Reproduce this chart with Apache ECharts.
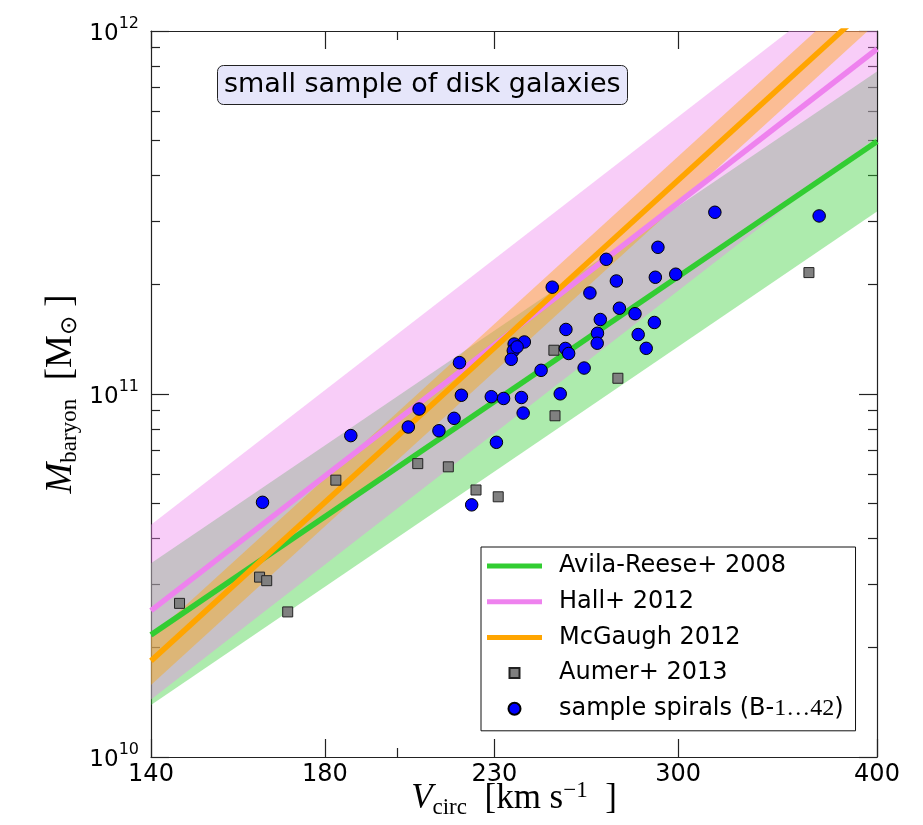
<!DOCTYPE html>
<html>
<head>
<meta charset="utf-8">
<script src="https://cdn.jsdelivr.net/npm/echarts@6/dist/echarts.min.js"></script>
<style>
html,body{margin:0;padding:0;background:#fff;}
#chart{width:923px;height:825px;}
</style>
</head>
<body>
<div id="chart"></div>
<script>
// ---------------- data ----------------
// relation endpoints (V_circ in km/s)
const relV = [140, 400];
const avilaMid = [2.17e10, 4.96e11];
const avilaLo  = [1.39e10, 3.18e11];
const avilaHi  = [3.42e10, 7.73e11];
const hallMid  = [2.53e10, 8.92e11];
const hallLo   = [1.44e10, 5.12e11];
const hallHi   = [4.36e10, 1.54e12];
const mcgMid   = [1.84e10, 1.226e12];
const mcgLo    = [1.58e10, 1.055e12];
const mcgHi    = [2.14e10, 1.425e12];

// Aumer+ 2013 (grey squares)
const aumerV = [145.9, 163.8, 165.5, 170.6, 182.9, 205.9, 215.2, 224.0, 231.3, 250.7, 275.0, 362.5, 251.1];
const aumerM = [2.65e10, 3.13e10, 3.06e10, 2.51e10, 5.79e10, 6.43e10, 6.30e10, 5.44e10, 5.21e10, 1.32e11, 1.105e11, 2.16e11, 8.71e10];

// sample spirals B-1...42 (blue circles)
const spiralV = [164.5, 186.9, 203.1, 206.3, 212.3, 217.0, 219.3, 229.0, 233.1, 239.2,
                 239.8, 230.7, 222.6, 218.7, 240.2, 236.7, 236.4, 235.7, 246.1, 250.1,
                 270.4, 291.4, 316.4, 367.9, 274.4, 264.1, 290.3, 299.0, 275.6, 281.9,
                 268.1, 255.1, 289.9, 267.0, 283.2, 266.9, 286.5, 254.9, 256.1, 261.9,
                 253.0, 237.7];
const spiralM = [5.03e10, 7.68e10, 8.11e10, 9.09e10, 7.92e10, 8.57e10, 9.92e10, 9.83e10, 9.72e10, 9.78e10,
                 8.86e10, 7.36e10, 4.95e10, 1.220e11, 1.391e11, 1.373e11, 1.316e11, 1.246e11, 1.162e11, 1.969e11,
                 2.350e11, 2.536e11, 3.167e11, 3.094e11, 2.048e11, 1.898e11, 2.097e11, 2.138e11, 1.723e11, 1.664e11,
                 1.604e11, 1.506e11, 1.574e11, 1.470e11, 1.458e11, 1.380e11, 1.336e11, 1.335e11, 1.293e11, 1.179e11,
                 1.001e11, 1.348e11];

// tick values
const xMajorTicks = [140, 180, 230, 300, 400];
const xMinorTicks = [200];
const yMajorTicks = [1e10, 1e11, 1e12];
const yMinorTicks = [2e10,3e10,4e10,5e10,6e10,7e10,8e10,9e10,2e11,3e11,4e11,5e11,6e11,7e11,8e11,9e11];

const legendNames = ['Avila-Reese+ 2008', 'Hall+ 2012', 'McGaugh 2012', 'Aumer+ 2013', 'sample spirals (B-1…42)'];

// ---------------- chart ----------------
const chart = echarts.init(document.getElementById('chart'), null, {renderer: 'canvas'});
const AX = '#222';

function xAx(pos, ticks, len, opts) {
  return Object.assign({
    type: 'log', logBase: 10, min: 140, max: 400, position: pos,
    axisLine: {show: true, onZero: false, lineStyle: {color: AX, width: 1.2}},
    axisTick: {show: true, inside: true, length: len, customValues: ticks, lineStyle: {color: AX, width: 1.2}},
    axisLabel: {show: false},
    splitLine: {show: false}, minorTick: {show: false}, minorSplitLine: {show: false}
  }, opts || {});
}
function yAx(pos, ticks, len, opts) {
  return Object.assign({
    type: 'log', logBase: 10, min: 1e10, max: 1e12, position: pos,
    axisLine: {show: true, onZero: false, lineStyle: {color: AX, width: 1.2}},
    axisTick: {show: true, inside: true, length: len, customValues: ticks, lineStyle: {color: AX, width: 1.2}},
    axisLabel: {show: false},
    splitLine: {show: false}, minorTick: {show: false}, minorSplitLine: {show: false}
  }, opts || {});
}

function band(lo, hi, color, z) {
  return {
    type: 'custom', xAxisIndex: 0, yAxisIndex: 0, clip: true, silent: true, z: z,
    data: relV.map((v, i) => [v, lo[i], hi[i]]),
    encode: {x: 0, y: [1, 2]},
    renderItem: function (params, api) {
      if (params.dataIndex !== 0) return null;
      const pts = [];
      for (let i = 0; i < relV.length; i++) pts.push(api.coord([relV[i], hi[i]]));
      for (let i = relV.length - 1; i >= 0; i--) pts.push(api.coord([relV[i], lo[i]]));
      return {type: 'polygon', shape: {points: pts}, style: {fill: color}};
    }
  };
}
function relLine(name, mid, color, z) {
  return {
    name: name, type: 'line', xAxisIndex: 0, yAxisIndex: 0, symbol: 'none', showSymbol: false, clip: true, z: z,
    data: relV.map((v, i) => [v, mid[i]]),
    lineStyle: {color: color, width: 5.5}, itemStyle: {color: color}
  };
}

const serif = 'Liberation Serif';
const lineIcon = 'path://M0,0L55,0L55,5L0,5Z';
const option = {
  backgroundColor: '#fff',
  animation: false,
  textStyle: {fontFamily: 'DejaVu Sans', color: '#000'},
  grid: {left: 151, right: 46, top: 31, bottom: 68, containLabel: false, outerBoundsMode: 'none'},
  title: {
    text: 'small sample of disk galaxies', left: 217, top: 65,
    padding: [3, 7, 4, 7], backgroundColor: '#e6e6fa', borderColor: '#222', borderWidth: 1, borderRadius: 6,
    textStyle: {fontFamily: 'DejaVu Sans', fontSize: 27, fontWeight: 'normal', color: '#000', lineHeight: 33}
  },
  legend: {
    orient: 'vertical', left: 481, top: 547,
    padding: [6, 12, 9, 6], itemGap: 9.7, itemWidth: 55, itemHeight: 12,
    backgroundColor: '#fff', borderColor: '#111', borderWidth: 1, borderRadius: 0,
    data: [
      {name: legendNames[0], icon: lineIcon},
      {name: legendNames[1], icon: lineIcon},
      {name: legendNames[2], icon: lineIcon},
      {name: legendNames[3], icon: 'path://M0,0L0,0M1,1L11,1L11,11L1,11Z M12,12L12,12'},
      {name: legendNames[4], icon: 'circle'}
    ],
    formatter: function (n) {
      if (n === legendNames[4]) return 'sample spirals (B-{m|1…42})';
      return n;
    },
    textStyle: {fontFamily: 'DejaVu Sans', fontSize: 24, color: '#000', lineHeight: 26, padding: [0, 0, 0, 12],
      rich: {m: {fontFamily: serif, fontSize: 24, color: '#000'}}},
    selectedMode: false
  },
  xAxis: [
    xAx('bottom', xMajorTicks, 18, {
      axisLabel: {show: true, customValues: xMajorTicks, margin: 6, fontFamily: 'DejaVu Sans', fontSize: 24, color: '#000',
        formatter: function (v) { return String(Math.round(v)); }},
      name: '{v|V}{sub|circ}{n|  [km s}{sup|−1}{n|  ]}', nameLocation: 'middle', nameGap: 22, nameMoveOverlap: false,
      nameTextStyle: {rich: {
        v: {fontFamily: serif, fontStyle: 'italic', fontSize: 35, color: '#000', lineHeight: 40},
        n: {fontFamily: serif, fontSize: 35, color: '#000', lineHeight: 40},
        sub: {fontFamily: serif, fontSize: 23, color: '#000', verticalAlign: 'bottom', lineHeight: 24},
        sup: {fontFamily: serif, fontSize: 23, color: '#000', verticalAlign: 'top', lineHeight: 24}
      }}
    }),
    xAx('bottom', xMinorTicks, 9, {axisLine: {show: false}}),
    xAx('top', xMajorTicks, 18),
    xAx('top', xMinorTicks, 9, {axisLine: {show: false}})
  ],
  yAxis: [
    yAx('left', yMajorTicks, 18, {
      axisLabel: {show: true, customValues: yMajorTicks, margin: 12,
        formatter: function (v) { return '{b|10}{s|' + Math.round(Math.log10(v)) + '}'; },
        rich: {
          b: {fontFamily: 'DejaVu Sans', fontSize: 23, color: '#000', lineHeight: 30, verticalAlign: 'bottom'},
          s: {fontFamily: 'DejaVu Sans', fontSize: 16, color: '#000', lineHeight: 30, verticalAlign: 'top'}
        }},
      name: '{v|M}{sub|baryon}{n|  [M}{sub|⊙}{n| ]}', nameLocation: 'middle', nameGap: 70, nameRotate: 90, nameMoveOverlap: false,
      nameTextStyle: {rich: {
        v: {fontFamily: serif, fontStyle: 'italic', fontSize: 37, color: '#000', lineHeight: 40},
        n: {fontFamily: serif, fontSize: 37, color: '#000', lineHeight: 40},
        sub: {fontFamily: serif, fontSize: 23, color: '#000', verticalAlign: 'bottom', lineHeight: 24}
      }}
    }),
    yAx('left', yMinorTicks, 9, {axisLine: {show: false}}),
    yAx('right', yMajorTicks, 18),
    yAx('right', yMinorTicks, 9, {axisLine: {show: false}})
  ],
  series: [
    band(avilaLo, avilaHi, 'rgba(50,205,50,0.4)', 1),
    band(hallLo, hallHi, 'rgba(238,130,238,0.4)', 2),
    band(mcgLo, mcgHi, 'rgba(255,165,0,0.4)', 3),
    relLine(legendNames[0], avilaMid, '#32cd32', 4),
    relLine(legendNames[1], hallMid, '#ee82ee', 5),
    relLine(legendNames[2], mcgMid, '#ffa500', 6),
    {
      name: legendNames[3], type: 'scatter', xAxisIndex: 0, yAxisIndex: 0, z: 7,
      symbol: 'rect', symbolSize: 10,
      data: aumerV.map((v, i) => [v, aumerM[i]]),
      itemStyle: {color: '#808080', borderColor: '#222', borderWidth: 1, opacity: 1}
    },
    {
      name: legendNames[4], type: 'scatter', xAxisIndex: 0, yAxisIndex: 0, z: 8,
      symbol: 'circle', symbolSize: 12.5,
      data: spiralV.map((v, i) => [v, spiralM[i]]),
      itemStyle: {color: '#0000ff', borderColor: '#000', borderWidth: 1, opacity: 1}
    }
  ]
};
chart.setOption(option);
</script>
</body>
</html>
